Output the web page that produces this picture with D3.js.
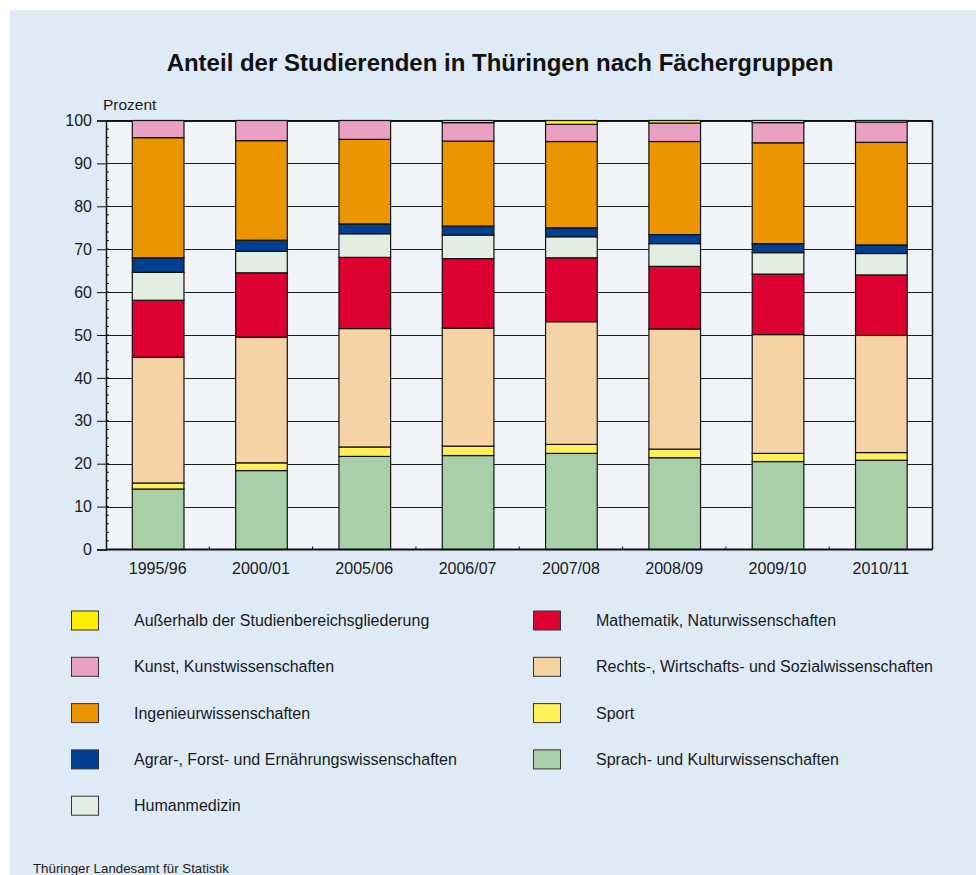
<!DOCTYPE html>
<html><head><meta charset="utf-8">
<script src="https://cdn.jsdelivr.net/npm/d3@7"></script>
<style>body{margin:0;background:#fff;}svg{display:block;font-family:"Liberation Sans",Arial,sans-serif;}</style>
</head><body>
<svg id="c" width="976" height="875"></svg>
<script>
const years = ["1995/96","2000/01","2005/06","2006/07","2007/08","2008/09","2009/10","2010/11"];
const sprach   = [14.1,18.4,21.7,21.9,22.4,21.4,20.5,20.8];
const sport    = [1.4,1.8,2.2,2.2,2.1,2.0,1.9,1.8];
const rechts   = [29.3,29.3,27.6,27.5,28.6,28.0,27.7,27.3];
const mathe    = [13.3,15.0,16.6,16.2,14.9,14.6,14.1,14.1];
const human    = [6.5,5.0,5.5,5.5,4.9,5.3,5.0,5.0];
const agrar    = [3.4,2.6,2.3,2.1,2.1,2.1,2.1,2.0];
const ingen    = [28.0,23.2,19.7,19.8,20.1,21.7,23.5,23.9];
const kunst    = [4.0,4.7,4.4,4.3,4.0,4.3,4.7,4.7];
const ausser   = [0.0,0.0,0.0,0.5,0.9,0.6,0.5,0.4];
const yTicks = [0,10,20,30,40,50,60,70,80,90,100];

const series = [
  {key:"Sprach- und Kulturwissenschaften", vals:sprach, color:"#a9cfa9"},
  {key:"Sport", vals:sport, color:"#fff157"},
  {key:"Rechts-, Wirtschafts- und Sozialwissenschaften", vals:rechts, color:"#f5d3a4"},
  {key:"Mathematik, Naturwissenschaften", vals:mathe, color:"#dd0031"},
  {key:"Humanmedizin", vals:human, color:"#e3eee2"},
  {key:"Agrar-, Forst- und Ernährungswissenschaften", vals:agrar, color:"#003f91"},
  {key:"Ingenieurwissenschaften", vals:ingen, color:"#eb9500"},
  {key:"Kunst, Kunstwissenschaften", vals:kunst, color:"#eaa0c3"},
  {key:"Außerhalb der Studienbereichsgliederung", vals:ausser, color:"#ffee00"}
];
const legendLeft = ["Außerhalb der Studienbereichsgliederung","Kunst, Kunstwissenschaften","Ingenieurwissenschaften","Agrar-, Forst- und Ernährungswissenschaften","Humanmedizin"];
const legendRight = ["Mathematik, Naturwissenschaften","Rechts-, Wirtschafts- und Sozialwissenschaften","Sport","Sprach- und Kulturwissenschaften"];

const FONT = "Liberation Sans, Arial, sans-serif";
const svg = d3.select("#c");
svg.append("rect").attr("x",10).attr("y",10).attr("width",966).attr("height",865).attr("fill","#deeaf6");

const L=106, R=932.5, T=120.5, B=549.5;
const x = d3.scaleBand().domain(years).range([L,R]).paddingInner(0.5).paddingOuter(0.25);
const y = d3.scaleLinear().domain([0,100]).range([B,T]);

svg.append("rect").attr("x",L).attr("y",T).attr("width",R-L).attr("height",B-T).attr("fill","#f1f5fa");

// grid
svg.append("g").selectAll("line").data(yTicks.filter(d=>d>0)).join("line")
  .attr("x1",L).attr("x2",R).attr("y1",d=>Math.round(y(d))+0.5).attr("y2",d=>Math.round(y(d))+0.5)
  .attr("stroke","#1a1a1a").attr("stroke-width",1);

// stacked bars
const rows = years.map((yr,i)=>{const o={year:yr}; series.forEach(s=>o[s.key]=s.vals[i]); return o;});
const stack = d3.stack().keys(series.map(s=>s.key))(rows);
const gBars = svg.append("g");
stack.forEach((layer,li)=>{
  gBars.append("g").selectAll("rect").data(layer.filter(d=>d[1]-d[0]>0)).join("rect")
    .attr("x",d=>x(d.data.year)+0.5).attr("width",x.bandwidth())
    .attr("y",d=>y(d[1])).attr("height",d=>y(d[0])-y(d[1]))
    .attr("fill",series[li].color).attr("stroke","#111").attr("stroke-width",1.2);
});

// axes
const yAxis = d3.axisLeft(y).tickValues(yTicks).tickSize(9).tickPadding(5);
const gy = svg.append("g").attr("transform",`translate(${L},0)`).call(yAxis);
gy.select(".domain").attr("stroke","#111").attr("stroke-width",1.5);
gy.selectAll(".tick line").attr("stroke","#111");
gy.selectAll("text").attr("font-size",16).attr("fill","#1a1a1a").attr("font-family",FONT);
// minor y ticks
svg.append("g").selectAll("line").data(d3.range(0,100,2)).join("line")
  .attr("x1",L).attr("x2",L+3).attr("y1",d=>y(d)).attr("y2",d=>y(d)).attr("stroke","#111").attr("stroke-width",1);

const xAxis = d3.axisBottom(x).tickSize(0).tickPadding(13);
const gx = svg.append("g").attr("transform",`translate(0,${B})`).call(xAxis);
gx.select(".domain").remove();
gx.selectAll("text").attr("font-size",16).attr("fill","#1a1a1a").attr("font-family",FONT);
// minor x ticks between bars
const step = x.step();
svg.append("g").selectAll("line").data(years.slice(0,-1)).join("line")
  .attr("x1",d=>x(d)+x.bandwidth()+step*0.25).attr("x2",d=>x(d)+x.bandwidth()+step*0.25)
  .attr("y1",B).attr("y2",B-3).attr("stroke","#111");
// frame
svg.append("line").attr("x1",L).attr("x2",R).attr("y1",B).attr("y2",B).attr("stroke","#111").attr("stroke-width",2);
svg.append("line").attr("x1",R).attr("x2",R).attr("y1",T).attr("y2",B).attr("stroke","#111").attr("stroke-width",1.5);
svg.append("line").attr("x1",L).attr("x2",R).attr("y1",T).attr("y2",T).attr("stroke","#111").attr("stroke-width",1);

// titles
svg.append("text").attr("x",500).attr("y",71).attr("text-anchor","middle").attr("font-size",24).attr("font-weight","bold").attr("fill","#111")
  .text("Anteil der Studierenden in Thüringen nach Fächergruppen");
svg.append("text").attr("x",103).attr("y",110).attr("font-size",15.5).attr("fill","#1a1a1a").text("Prozent");
svg.append("text").attr("x",33).attr("y",873).attr("font-size",13.3).attr("fill","#1a1a1a").text("Thüringer Landesamt für Statistik");

// legend
const colorOf = k=>series.find(s=>s.key===k).color;
function legendCol(items,sx,tx){
  const g = svg.append("g");
  items.forEach((k,i)=>{
    const top = 611 + i*46.3;
    g.append("rect").attr("x",sx).attr("y",top).attr("width",27).attr("height",19).attr("fill",colorOf(k)).attr("stroke","#333").attr("stroke-width",1);
    g.append("text").attr("x",tx).attr("y",top+9.5).attr("dy","0.35em").attr("font-size",16).attr("fill","#1a1a1a").text(k);
  });
}
legendCol(legendLeft,71.5,134);
legendCol(legendRight,533.5,596);
</script>
</body></html>
